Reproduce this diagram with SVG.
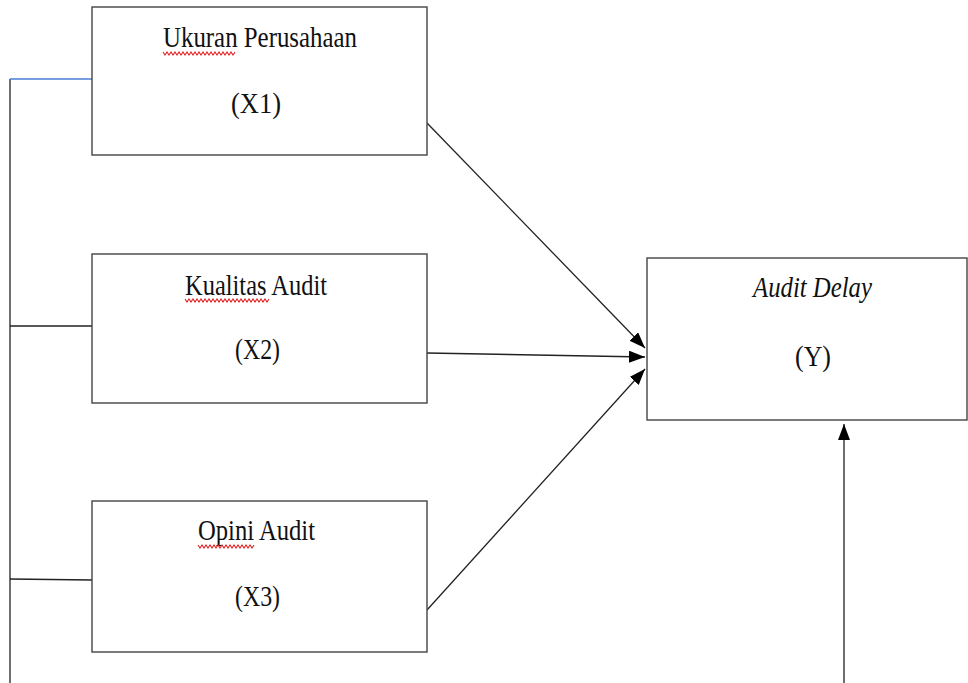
<svg xmlns="http://www.w3.org/2000/svg" width="968" height="683" viewBox="0 0 968 683">
<defs>
<style>
.box{fill:#fff;stroke:#444;stroke-width:1.4}
.ln{stroke:#222;stroke-width:1.3;fill:none}
.t{font-family:"Liberation Serif","Times New Roman",serif;font-size:30px;fill:#111}
.sq{stroke:#e02020;stroke-width:1.1;fill:none}
</style>
<marker id="ah" viewBox="0 0 16 12" refX="16" refY="6" markerWidth="16" markerHeight="12" markerUnits="userSpaceOnUse" orient="auto">
<path d="M0,0 L16,6 L0,12 Z" fill="#000"/>
</marker>
</defs>
<rect width="968" height="683" fill="#fff"/>
<g id="connectors">
<line x1="10" y1="79" x2="10" y2="683" class="ln" stroke="#555"/>
<line x1="10" y1="79" x2="92" y2="79" stroke="#4a7fd4" stroke-width="1.3"/>
<line x1="10" y1="326" x2="92" y2="326" class="ln"/>
<line x1="10" y1="579" x2="92" y2="580" class="ln"/>
<line x1="427" y1="123" x2="645" y2="348" class="ln" marker-end="url(#ah)"/>
<line x1="427" y1="353" x2="645" y2="357" class="ln" marker-end="url(#ah)"/>
<line x1="427" y1="610" x2="645" y2="369" class="ln" marker-end="url(#ah)"/>
<line x1="844" y1="683" x2="844" y2="424" class="ln" marker-end="url(#ah)"/>
</g>
<g id="x1">
<rect x="92" y="7" width="335" height="148" class="box"/>
<text x="163" y="47" class="t" textLength="194" lengthAdjust="spacingAndGlyphs">Ukuran Perusahaan</text>
<path class="sq" d="M163,52 l2,3 l2,-3 l2,3 l2,-3 l2,3 l2,-3 l2,3 l2,-3 l2,3 l2,-3 l2,3 l2,-3 l2,3 l2,-3 l2,3 l2,-3 l2,3 l2,-3 l2,3 l2,-3 l2,3 l2,-3 l2,3 l2,-3 l2,3 l2,-3 l2,3 l2,-3 l2,3 l2,-3 l2,3 l2,-3 l2,3 l2,-3 l2,3 l2,-3"/>
<text x="231" y="113" class="t" textLength="50" lengthAdjust="spacingAndGlyphs">(X1)</text>
</g>
<g id="x2">
<rect x="92" y="254" width="335" height="149" class="box"/>
<text x="185" y="295" class="t" textLength="142" lengthAdjust="spacingAndGlyphs">Kualitas Audit</text>
<path class="sq" d="M185,299 l2,3 l2,-3 l2,3 l2,-3 l2,3 l2,-3 l2,3 l2,-3 l2,3 l2,-3 l2,3 l2,-3 l2,3 l2,-3 l2,3 l2,-3 l2,3 l2,-3 l2,3 l2,-3 l2,3 l2,-3 l2,3 l2,-3 l2,3 l2,-3 l2,3 l2,-3 l2,3 l2,-3 l2,3 l2,-3 l2,3 l2,-3 l2,3 l2,-3 l2,3 l2,-3 l2,3 l2,-3 l2,3 l2,-3"/>
<text x="235" y="359" class="t" textLength="45" lengthAdjust="spacingAndGlyphs">(X2)</text>
</g>
<g id="x3">
<rect x="92" y="501" width="335" height="151" class="box"/>
<text x="198" y="540" class="t" textLength="117" lengthAdjust="spacingAndGlyphs">Opini Audit</text>
<path class="sq" d="M198,545 l2,3 l2,-3 l2,3 l2,-3 l2,3 l2,-3 l2,3 l2,-3 l2,3 l2,-3 l2,3 l2,-3 l2,3 l2,-3 l2,3 l2,-3 l2,3 l2,-3 l2,3 l2,-3 l2,3 l2,-3 l2,3 l2,-3 l2,3 l2,-3 l2,3 l2,-3"/>
<text x="235" y="606" class="t" textLength="45" lengthAdjust="spacingAndGlyphs">(X3)</text>
</g>
<g id="y">
<rect x="647" y="258" width="320" height="162" class="box"/>
<text x="753" y="297" class="t" font-style="italic" textLength="119" lengthAdjust="spacingAndGlyphs">Audit Delay</text>
<text x="795" y="366" class="t" textLength="36" lengthAdjust="spacingAndGlyphs">(Y)</text>
</g>
</svg>
